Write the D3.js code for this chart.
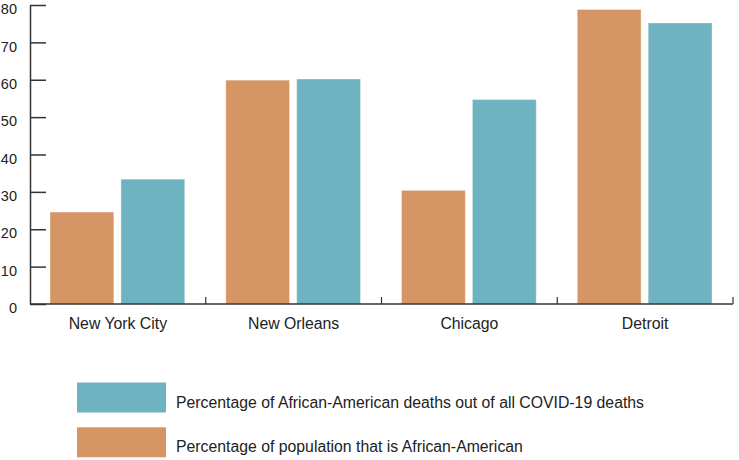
<!DOCTYPE html>
<head>
  <meta charset="utf-8">
  <script src="https://d3js.org/d3.v7.min.js"></script>
  <style>
    body { margin: 0; padding: 0; background: #fff; }
    text { font-family: "Liberation Sans", Arial, sans-serif; fill: #222; }
  </style>
</head>
<body>
  <script>
    // values
    var cities = ["New York City", "New Orleans", "Chicago", "Detroit"],
      popShare = [24.6, 59.9, 30.4, 78.8],     // % of population that is African-American
      deathShare = [33.4, 60.2, 54.7, 75.2],   // % of COVID-19 deaths that are African-American
      yTicks = [0, 10, 20, 30, 40, 50, 60, 70, 80],
      series = ["pop", "deaths"],
      seriesLabels = {
        deaths: "Percentage of African-American deaths out of all COVID-19 deaths",
        pop: "Percentage of population that is African-American"
      },
      colors = { pop: "#d69565", deaths: "#70b3c0" };

    var width = 739, height = 460;
    var plotLeft = 30, plotRight = 733, base = 304, plotTop = 5;

    var svg = d3.select("body").append("svg")
      .attr("width", width)
      .attr("height", height);

    var x = d3.scaleBand().domain(cities).range([plotLeft, plotRight]);
    var x1 = d3.scaleBand().domain(series)
      .range([20, x.bandwidth() - 21]).paddingInner(0.1);
    var y = d3.scaleLinear().domain([0, 80]).range([base, plotTop]);

    var rows = cities.map(function (c, i) {
      return { city: c, pop: popShare[i], deaths: deathShare[i] };
    });

    // bars
    var g = svg.selectAll("g.city")
      .data(rows)
      .enter().append("g")
      .attr("class", "city")
      .attr("transform", function (d) { return "translate(" + x(d.city) + ",0)"; });

    g.selectAll("rect")
      .data(function (d) { return series.map(function (s) { return { key: s, value: d[s] }; }); })
      .enter().append("rect")
      .attr("x", function (d) { return x1(d.key); })
      .attr("width", x1.bandwidth())
      .attr("y", function (d) { return y(d.value); })
      .attr("height", function (d) { return base - y(d.value); })
      .attr("fill", function (d) { return colors[d.key]; })
      .attr("stroke", "#ffffff")
      .attr("stroke-opacity", 0.35)
      .attr("stroke-width", 1);

    // y axis, ticks pointing into the plot
    var yAxis = svg.append("g")
      .attr("transform", "translate(" + plotLeft + ",0)")
      .call(d3.axisLeft(y).tickValues(yTicks).tickSize(-16).tickPadding(13).tickSizeOuter(0));
    yAxis.select(".domain").attr("stroke", "#333").attr("stroke-width", 1.5);
    yAxis.selectAll(".tick line").attr("stroke", "#333").attr("stroke-width", 1.5);
    yAxis.selectAll(".tick text")
      .attr("y", 4)
      .attr("font-size", 14.5)
      .attr("font-family", "Liberation Sans, Arial, sans-serif")
      .attr("fill", "#222");

    // x axis baseline
    svg.append("line")
      .attr("x1", plotLeft).attr("x2", plotRight)
      .attr("y1", base).attr("y2", base)
      .attr("stroke", "#333").attr("stroke-width", 1.5);

    // small upward ticks at the band boundaries
    svg.selectAll("line.sep")
      .data(cities)
      .enter().append("line")
      .attr("class", "sep")
      .attr("x1", function (d) { return x(d) + x.bandwidth(); })
      .attr("x2", function (d) { return x(d) + x.bandwidth(); })
      .attr("y1", base).attr("y2", base - 7)
      .attr("stroke", "#333").attr("stroke-width", 1.2);

    svg.selectAll("text.cat")
      .data(cities)
      .enter().append("text")
      .attr("class", "cat")
      .attr("x", function (d) { return x(d) + x.bandwidth() / 2; })
      .attr("y", 329)
      .attr("text-anchor", "middle")
      .attr("font-size", 15.8)
      .text(function (d) { return d; });

    // legend
    var legendOrder = ["deaths", "pop"];
    var lg = svg.selectAll("g.legend")
      .data(legendOrder)
      .enter().append("g")
      .attr("class", "legend")
      .attr("transform", function (d, i) { return "translate(77," + (382.5 + i * 44.8) + ")"; });

    lg.append("rect")
      .attr("width", 89)
      .attr("height", 30)
      .attr("fill", function (d) { return colors[d]; });

    lg.append("text")
      .attr("x", 99)
      .attr("y", 25)
      .attr("font-size", 15.8)
      .text(function (d) { return seriesLabels[d]; });
  </script>
</body>
